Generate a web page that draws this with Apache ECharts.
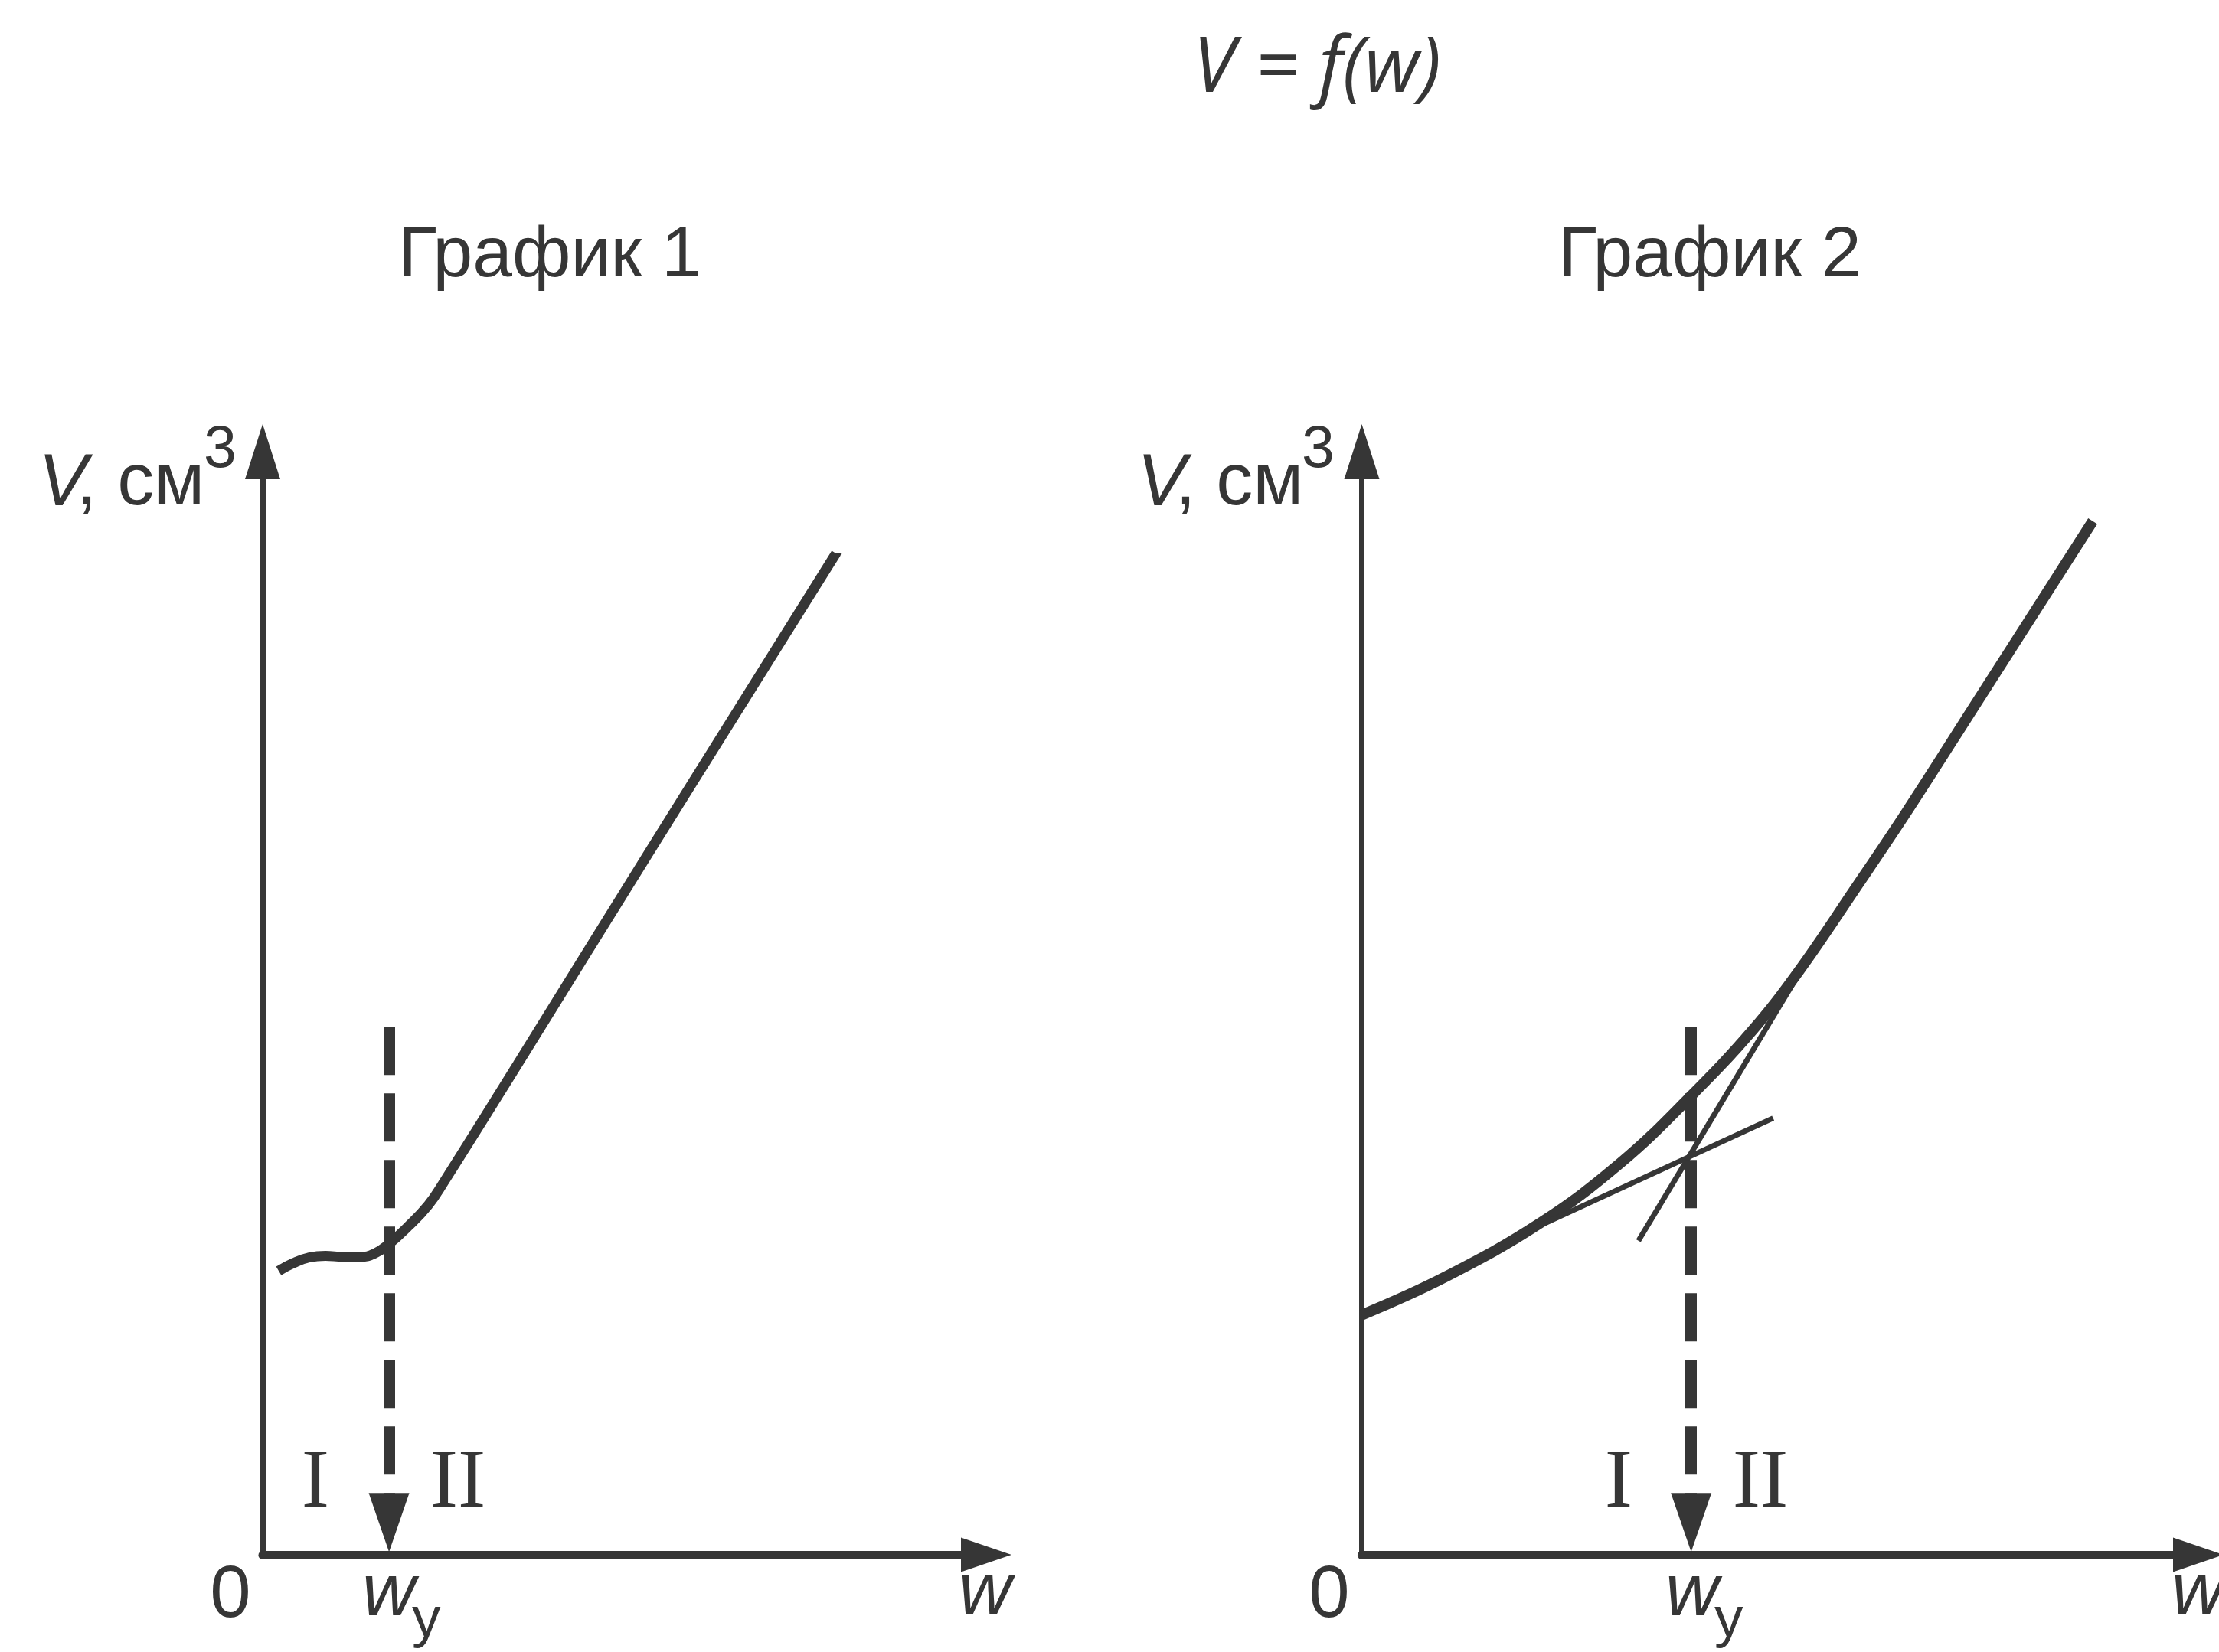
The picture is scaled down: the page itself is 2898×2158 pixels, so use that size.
<!DOCTYPE html>
<html>
<head>
<meta charset="utf-8">
<script src="https://cdn.jsdelivr.net/npm/echarts@6/dist/echarts.min.js"></script>
<style>
html,body{margin:0;padding:0;background:#fff;}
#c{width:2898px;height:2158px;}
</style>
</head>
<body>
<div id="c"></div>
<script>
// ---- data (arbitrary units) ----
const titleText = 'V = f(w)';
const panelTitles = ['График 1', 'График 2'];
const yNameMain = ', см';
const yNameVar = 'V';
const yNameSup = '3';
const xNameText = 'w';
const originLabel = '0';
const wyMain = 'w';
const wySub = 'y';
const zoneLabels = ['I', 'II'];

// Chart 1: V(w)
const curve1 = [[2.3,26.4],[4.5,27.15],[6.7,27.65],[9.0,27.8],[11.5,27.7],[14.0,27.7],[16.0,28.0],[18.1,28.9],[20.8,30.5],[23.7,32.5],[25.9,34.6],[36.5,45.6],[55.9,65.9],[82.1,93.1]];
const wy1 = 18.1;
// Chart 2: V(w) with two tangents
const curve2 = [[0,22.3],[10.2,25.8],[22.1,30.9],[32.0,36.5],[40.5,42.6],[48.2,48.8],[53.9,54.3],[60.7,61.8],[67.1,69.0],[76.1,79.6],[90.1,96.1]];
const tangentA = [[20.5,30.1],[50.7,40.6]];
const tangentB = [[34.1,29.2],[54.1,54.3]];
const wy2 = 40.6;
const dashTop = 49.1;
const dashEnd = 3.0;

const C = '#363636';
const chart = echarts.init(document.getElementById('c'));

function xAx(i){
  return {gridIndex:i, type:'value', min:0, max:100,
    axisLine:{show:true, onZero:false, symbol:['none','triangle'], symbolSize:[45,66], symbolOffset:[0,33], lineStyle:{color:C,width:11}},
    axisTick:{show:false}, axisLabel:{show:false}, splitLine:{show:false}};
}
function yAx(i){
  return {gridIndex:i, type:'value', min:0, max:100,
    axisLine:{show:true, onZero:false, symbol:['none','triangle'], symbolSize:[46,72], symbolOffset:[0,36], lineStyle:{color:C,width:7}},
    axisTick:{show:false}, axisLabel:{show:false}, splitLine:{show:false}};
}
function dashed(wy){
  return {silent:true, symbol:['none','triangle'], symbolSize:[53,77], label:{show:false},
    lineStyle:{color:C, width:15, type:[63,24]},
    emphasis:{disabled:true},
    data:[[{coord:[wy,dashTop]},{coord:[wy,dashEnd]}]]};
}
function txt(x,y,text,size,opts){
  opts = opts||{};
  return {type:'text', x:x, y:y, silent:true, z:100,
    style:{text:text, fontSize:size, fontFamily:opts.family||'Liberation Sans', fontStyle:opts.italic?'italic':'normal',
      fill:C, align:opts.align||'left', verticalAlign:'middle'}};
}

const graphic = [
  txt(1720, 92, titleText, 100, {family:'Open Sans', italic:true, align:'center'}),
  txt(718, 335, panelTitles[0], 93, {align:'center'}),
  txt(2233, 335, panelTitles[1], 93, {align:'center'}),
  // y names
  txt(50, 633, yNameVar, 96, {italic:true}),
  txt(100, 633, yNameMain, 96),
  txt(266, 589, yNameSup, 77),
  txt(1485, 633, yNameVar, 96, {italic:true}),
  txt(1535, 633, yNameMain, 96),
  txt(1700, 589, yNameSup, 77),
  // x names
  txt(1252, 2081, xNameText, 96, {italic:true}),
  txt(2836, 2081, xNameText, 96, {italic:true}),
  // origins
  txt(301, 2086, originLabel, 96, {align:'center'}),
  txt(1736, 2086, originLabel, 96, {align:'center'}),
  // w_y
  txt(473, 2083, wyMain, 96, {italic:true}),
  txt(538, 2117, wySub, 75),
  txt(2175, 2083, wyMain, 96, {italic:true}),
  txt(2239, 2117, wySub, 75),
  // zones
  txt(412, 1939, zoneLabels[0], 109, {family:'Liberation Serif', align:'center'}),
  txt(598, 1939, zoneLabels[1], 109, {family:'Liberation Serif', align:'center'}),
  txt(2114, 1939, zoneLabels[0], 109, {family:'Liberation Serif', align:'center'}),
  txt(2299, 1939, zoneLabels[1], 109, {family:'Liberation Serif', align:'center'})
];

chart.setOption({
  animation:false,
  backgroundColor:'#ffffff',
  grid:[{left:343, top:626, width:912, height:1405},{left:1778.5, top:626, width:1059.5, height:1405}],
  xAxis:[xAx(0), xAx(1)],
  yAxis:[yAx(0), yAx(1)],
  series:[
    {type:'line', xAxisIndex:0, yAxisIndex:0, data:curve1, smooth:0.45, symbol:'none', clip:false,
     lineStyle:{color:C, width:13}, emphasis:{disabled:true}, markLine:dashed(wy1)},
    {type:'line', xAxisIndex:1, yAxisIndex:1, data:curve2, smooth:0.4, symbol:'none', clip:false,
     lineStyle:{color:C, width:14}, emphasis:{disabled:true}, markLine:dashed(wy2)},
    {type:'line', xAxisIndex:1, yAxisIndex:1, data:tangentA, symbol:'none', clip:false,
     lineStyle:{color:C, width:7}, emphasis:{disabled:true}},
    {type:'line', xAxisIndex:1, yAxisIndex:1, data:tangentB, symbol:'none', clip:false,
     lineStyle:{color:C, width:7}, emphasis:{disabled:true}}
  ],
  graphic:graphic
});
</script>
</body>
</html>
